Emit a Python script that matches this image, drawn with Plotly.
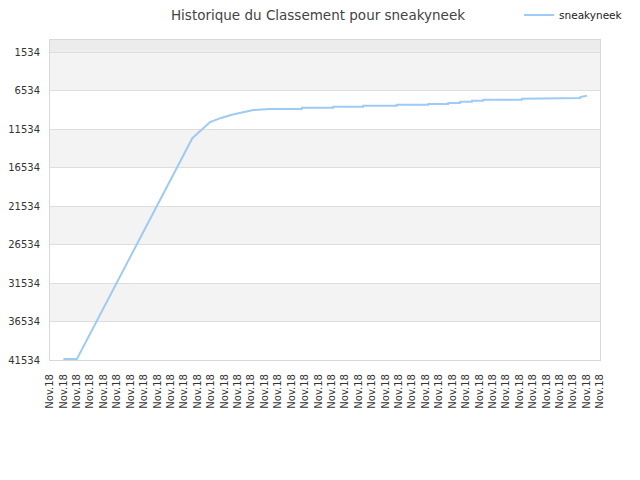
import plotly.graph_objects as go

# rank history (position along the x axis in tick units, rank value)
positions = [1, 2, 10.61, 11.93, 12.7, 13.55, 14.4, 15.16, 16.41, 18.77, 18.78,
             21.1, 21.11, 23.34, 23.35, 25.85, 25.86, 28.19, 28.2, 29.68, 29.69,
             30.57, 30.58, 31.45, 31.46, 32.29, 32.3, 35.17, 35.18, 38.46, 38.47,
             39.52, 39.53, 40.02]
ranks = [41420, 41420, 12700, 10600, 10100, 9650, 9320, 9040, 8905, 8905, 8740,
         8740, 8610, 8610, 8480, 8480, 8360, 8360, 8255, 8255, 8125,
         8125, 7960, 7960, 7830, 7830, 7700, 7700, 7570, 7570, 7480,
         7480, 7345, 7180]

x_labels = ["Nov.18"] * 42
y_ticks = [1534, 6534, 11534, 16534, 21534, 26534, 31534, 36534, 41534]

fig = go.Figure()
fig.add_trace(go.Scatter(
    x=positions,
    y=ranks,
    mode="lines",
    name="sneakyneek",
    line=dict(color="#9ecaf3", width=2),
))

# alternating bands behind the plot
shapes = [dict(type="rect", xref="paper", yref="y", x0=0, x1=1, y0=-60, y1=1534,
               fillcolor="#ececec", line_width=0, layer="below")]
for lo in [1534, 11534, 21534, 31534]:
    shapes.append(dict(type="rect", xref="paper", yref="y", x0=0, x1=1, y0=lo, y1=lo + 5000,
                       fillcolor="#f3f3f3", line_width=0, layer="below"))

# the page body adds ~8px around the figure, so the figure is a bit smaller
fig.update_layout(
    width=632,
    height=472,
    margin=dict(l=42, r=40, t=32, b=120, autoexpand=False),
    paper_bgcolor="white",
    plot_bgcolor="white",
    font=dict(family="DejaVu Sans", size=10, color="#333333"),
    title=dict(text="Historique du Classement pour sneakyneek", x=0.4905, xanchor="center",
               y=0.995, yanchor="top", font=dict(size=13.5, color="#444444")),
    showlegend=True,
    legend=dict(x=1.051, xanchor="right", y=1.078, yanchor="middle", orientation="h",
                font=dict(size=10.5, color="#222222"), itemwidth=30, bgcolor="rgba(0,0,0,0)"),
    shapes=shapes,
    xaxis=dict(
        range=[0, 41],
        tickmode="array",
        tickvals=list(range(len(x_labels))),
        ticktext=x_labels,
        tickangle=-90,
        showgrid=False,
        zeroline=False,
        showline=True,
        linecolor="#d8d8d8",
        mirror=True,
        ticks="",
        ticklabelstandoff=9,
        automargin=False,
    ),
    yaxis=dict(
        range=[41534, -60],
        tickmode="array",
        tickvals=y_ticks,
        ticktext=[str(v) for v in y_ticks],
        showgrid=True,
        gridcolor="#dedede",
        zeroline=False,
        showline=True,
        linecolor="#d8d8d8",
        mirror=True,
        ticks="",
        ticklabelstandoff=7,
        automargin=False,
    ),
)

fig.write_html("out.html")
